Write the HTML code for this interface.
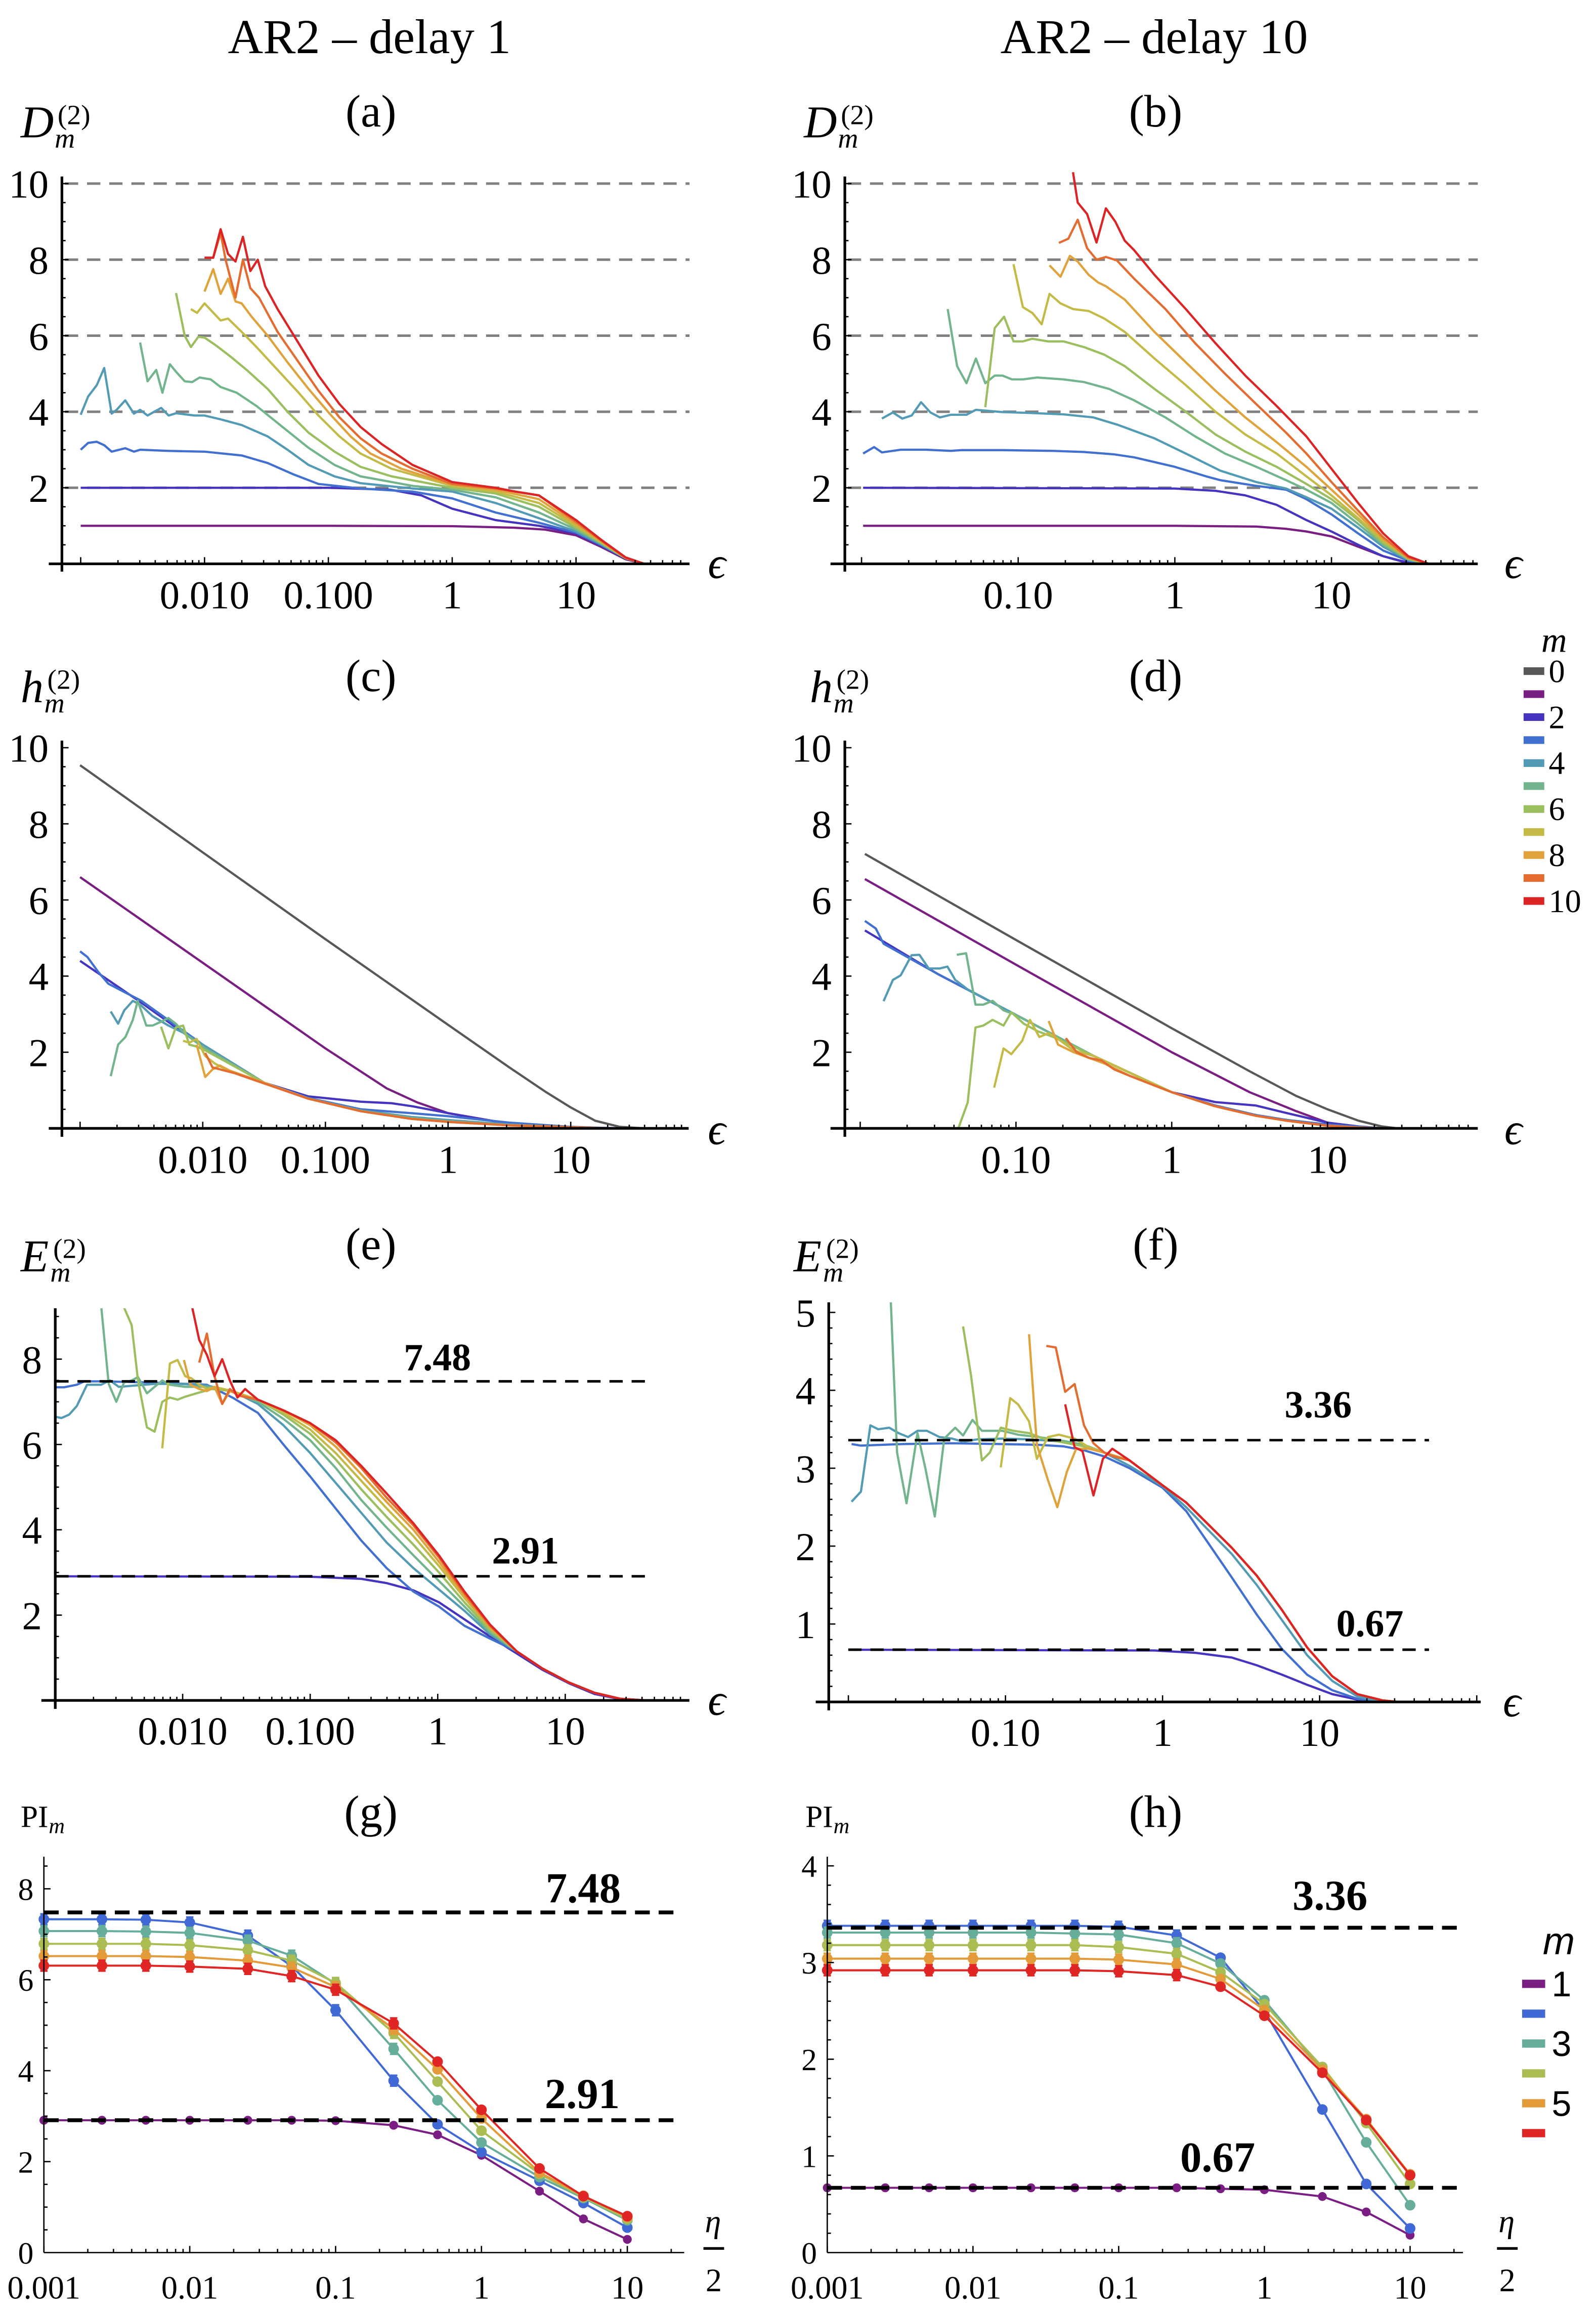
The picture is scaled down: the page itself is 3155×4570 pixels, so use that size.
<!DOCTYPE html>
<html><head><meta charset="utf-8">
<style>
html,body{margin:0;padding:0;background:#fff;}
svg{display:block;}
text{font-family:"Liberation Serif","DejaVu Serif",serif;fill:#000;}
.sans{font-family:"Liberation Sans","DejaVu Sans",sans-serif;}
</style></head>
<body>
<svg id="chart" xmlns="http://www.w3.org/2000/svg" width="3155" height="4570" viewBox="0 0 1080 1564" preserveAspectRatio="none">
<rect x="0" y="0" width="1080" height="1564" fill="#fff"/>
<text x="250" y="36" font-size="33" text-anchor="middle">AR2 – delay 1</text>
<text x="781" y="36" font-size="33" text-anchor="middle">AR2 – delay 10</text>
</svg>
<script>
// ================= DATA =================
const mColors = ['#585858','#7a1f82','#4434c0','#4170d0','#539bb5','#72b48c','#9bbf5f','#c3bb46','#e0a23a','#e46c30','#dc2424'];

// ---- Panel (a) ----
const aL1=[-3,-1,0,0.5,0.75,1,1.2,1.4,1.55], aV1=[1,1,0.99,0.95,0.9,0.75,0.45,0.12,0];
const aL2=[-3,-2,-1,-0.5,-0.25,0,0.35,0.7,1,1.2,1.4,1.55], aV2=[2,2,2,1.95,1.8,1.45,1.15,1.0,0.8,0.48,0.14,0];
const aL3=[-3,-2.94,-2.87,-2.81,-2.75,-2.64,-2.57,-2.52,-2.3,-2,-1.7,-1.49,-1.28,-1.08,-0.74,-0.32,0,0.35,0.7,1,1.2,1.4,1.55];
const aV3=[3.0,3.18,3.21,3.12,2.95,3.04,2.95,3.0,2.97,2.95,2.85,2.65,2.35,2.1,1.98,1.9,1.72,1.35,1.08,0.82,0.5,0.15,0];
const aL4=[-3,-2.94,-2.87,-2.81,-2.75,-2.71,-2.64,-2.57,-2.52,-2.46,-2.35,-2.29,-2.23,-2.08,-2,-1.87,-1.7,-1.49,-1.33,-1.16,-0.95,-0.74,-0.32,0,0.35,0.7,1,1.2,1.4,1.55];
const aV4=[3.92,4.4,4.7,5.15,3.95,4.05,4.3,3.95,4.05,3.9,4.1,3.9,3.96,3.9,3.9,3.8,3.65,3.35,3.0,2.6,2.3,2.12,1.98,1.9,1.6,1.2,0.85,0.52,0.15,0];
const aL5=[-2.52,-2.46,-2.39,-2.34,-2.28,-2.23,-2.16,-2.1,-2.04,-1.95,-1.87,-1.74,-1.58,-1.37,-1.16,-0.95,-0.74,-0.32,0,0.35,0.7,1,1.2,1.4,1.55];
const aV5=[5.82,4.8,5.1,4.5,5.25,5.05,4.8,4.78,4.9,4.85,4.65,4.5,4.15,3.6,3.05,2.6,2.3,2.05,1.95,1.75,1.35,0.9,0.54,0.15,0];
const aL6=[-2.23,-2.16,-2.11,-2.05,-2,-1.91,-1.79,-1.66,-1.49,-1.33,-1.16,-0.95,-0.74,-0.49,0,0.35,0.7,1,1.2,1.4,1.55];
const aV6=[7.12,6.0,5.7,5.97,5.95,5.75,5.45,5.1,4.6,4.0,3.45,2.95,2.55,2.3,2.0,1.85,1.5,0.95,0.56,0.15,0];
const aL7=[-2.11,-2.06,-2,-1.87,-1.81,-1.7,-1.58,-1.41,-1.24,-1.08,-0.91,-0.74,-0.49,0,0.35,0.7,1,1.2,1.4,1.55];
const aV7=[6.7,6.6,6.85,6.4,6.45,6.1,5.7,5.1,4.5,3.9,3.35,2.9,2.5,2.05,1.9,1.6,1.0,0.58,0.15,0];
const aL8=[-2,-1.93,-1.87,-1.81,-1.75,-1.7,-1.62,-1.49,-1.33,-1.16,-0.99,-0.82,-0.66,-0.41,0,0.35,0.7,1,1.2,1.4,1.55];
const aV8=[7.16,7.75,7.1,7.5,6.9,6.85,6.5,6.0,5.3,4.6,3.95,3.35,2.9,2.5,2.08,1.95,1.7,1.05,0.6,0.16,0];
const aL9=[-2,-1.93,-1.87,-1.83,-1.75,-1.69,-1.63,-1.56,-1.41,-1.24,-1.08,-0.91,-0.74,-0.57,-0.32,0,0.35,0.7,1,1.2,1.4,1.55];
const aV9=[8.05,8.05,8.7,8.0,7.0,8.0,7.25,7.0,6.1,5.3,4.55,3.85,3.3,2.9,2.5,2.1,1.98,1.8,1.1,0.62,0.16,0];
const aL10=[-2,-1.93,-1.87,-1.81,-1.75,-1.69,-1.63,-1.57,-1.51,-1.41,-1.24,-1.08,-0.91,-0.74,-0.57,-0.32,0,0.35,0.51,0.7,1,1.2,1.4,1.55];
const aV10=[8.05,8.05,8.8,8.15,7.95,8.6,7.7,8.0,7.3,6.7,5.8,4.95,4.2,3.6,3.15,2.6,2.15,2.0,1.9,1.8,1.15,0.64,0.17,0];

// ---- Panel (b) ----
const bL1=[-1.99,0,0.52,0.71,0.84,1.0,1.17,1.33,1.46,1.53], bV1=[1,1,0.98,0.92,0.85,0.72,0.45,0.2,0.05,0];
const bL2=[-1.99,0,0.26,0.45,0.65,0.84,1.0,1.17,1.33,1.49,1.54], bV2=[2,1.98,1.92,1.8,1.55,1.15,0.85,0.5,0.2,0.03,0];
const bL3=[-1.99,-1.92,-1.87,-1.75,-1.59,-1.43,-1.36,-1.1,-0.78,-0.58,-0.39,-0.26,0,0.2,0.29,0.52,0.71,0.84,1.0,1.17,1.33,1.49,1.59];
const bV3=[2.9,3.07,2.93,3.0,3.0,2.97,2.99,2.99,2.97,2.94,2.88,2.8,2.55,2.3,2.2,2.05,1.95,1.7,1.3,0.8,0.35,0.08,0];
const bL4=[-1.87,-1.8,-1.74,-1.68,-1.62,-1.56,-1.5,-1.43,-1.33,-1.27,-1.1,-0.94,-0.71,-0.52,-0.36,-0.13,0.07,0.29,0.52,0.71,0.84,1.0,1.17,1.33,1.49,1.61];
const bV4=[3.82,3.98,3.82,3.9,4.25,3.98,3.85,3.92,3.92,4.05,3.99,3.97,3.93,3.85,3.65,3.3,2.9,2.45,2.15,1.98,1.75,1.45,0.95,0.45,0.1,0];
const bL5=[-1.45,-1.39,-1.33,-1.27,-1.21,-1.15,-1.1,-1.04,-0.97,-0.88,-0.71,-0.58,-0.42,-0.26,-0.06,0.13,0.32,0.52,0.71,0.84,1.0,1.17,1.33,1.49,1.62];
const bV5=[6.7,5.2,4.75,5.4,4.75,4.95,4.95,4.85,4.85,4.9,4.85,4.78,4.6,4.3,3.85,3.35,2.9,2.55,2.2,1.95,1.6,1.05,0.5,0.12,0];
const bL6=[-1.21,-1.15,-1.09,-1.03,-0.97,-0.91,-0.81,-0.71,-0.58,-0.45,-0.32,-0.13,0.07,0.26,0.45,0.65,0.84,1.0,1.17,1.33,1.49,1.62];
const bV6=[4.12,6.2,6.5,5.85,5.85,5.92,5.85,5.85,5.7,5.5,5.2,4.6,4.0,3.4,2.95,2.55,2.1,1.7,1.15,0.55,0.13,0];
const bL7=[-1.03,-0.97,-0.91,-0.85,-0.8,-0.73,-0.65,-0.55,-0.45,-0.32,-0.13,0.07,0.26,0.45,0.65,0.84,1.0,1.17,1.33,1.49,1.62];
const bV7=[7.88,6.75,6.6,6.3,7.1,6.85,6.7,6.65,6.45,6.1,5.4,4.7,4.0,3.4,2.9,2.3,1.8,1.2,0.6,0.15,0];
const bL8=[-0.8,-0.73,-0.67,-0.62,-0.55,-0.49,-0.44,-0.32,-0.13,0.07,0.26,0.45,0.65,0.84,1.0,1.17,1.33,1.49,1.62];
const bV8=[7.85,7.55,8.1,7.95,7.6,7.4,7.3,6.95,6.1,5.3,4.55,3.85,3.2,2.55,1.95,1.3,0.65,0.15,0];
const bL9=[-0.74,-0.68,-0.62,-0.56,-0.5,-0.44,-0.37,-0.26,-0.06,0.13,0.32,0.52,0.71,0.84,1.0,1.17,1.33,1.49,1.62];
const bV9=[8.44,8.55,9.05,8.3,8.0,8.07,7.98,7.5,6.7,5.8,5.0,4.2,3.45,2.9,2.15,1.4,0.7,0.17,0];
const bL10=[-0.65,-0.62,-0.56,-0.5,-0.44,-0.38,-0.32,-0.26,-0.13,0.07,0.26,0.45,0.65,0.84,1.0,1.17,1.33,1.49,1.62];
const bV10=[10.3,9.5,9.2,8.45,9.35,9.0,8.5,8.25,7.6,6.7,5.8,4.95,4.15,3.35,2.5,1.6,0.8,0.2,0];

// ---- Panel (c) ----
const cL0=[-3,-2,-1,0,0.5,0.8,1,1.2,1.4,1.6], cV0=[9.54,7.25,4.97,2.72,1.6,0.95,0.55,0.2,0.04,0];
const cL1=[-3,-2,-1,-0.5,-0.25,0,0.5,1,1.3], cV1=[6.6,4.35,2.1,1.05,0.68,0.4,0.12,0.02,0];
const cL2=[-3,-2.5,-2,-1.5,-1.14,-0.71,-0.46,-0.29,0,0.35,0.56,1,1.4], cV2=[4.4,3.3,2.15,1.2,0.84,0.7,0.66,0.58,0.4,0.2,0.1,0.02,0];
const cL3=[-3,-2.94,-2.85,-2.77,-2.5,-2,-1.5,-1.14,-0.71,-0.3,0,0.5,1,1.4], cV3=[4.65,4.5,4.1,3.8,3.35,2.2,1.2,0.8,0.5,0.4,0.32,0.15,0.04,0];
const cTailL=[-1.14,-0.71,-0.3,0,0.5,1,1.3], cTailV=[0.78,0.45,0.25,0.17,0.08,0.03,0];
const cL4=[-2.75,-2.69,-2.64,-2.57,-2.51,-2.41,-2.28,-2.15,-2,-1.5,-1.14,-0.71,-0.3,0,0.5,1,1.3], cV4=[3.07,2.75,3.1,3.35,3.25,2.95,2.7,2.5,2.2,1.2,0.79,0.47,0.3,0.22,0.1,0.03,0];
const cL5=[-2.75,-2.69,-2.63,-2.57,-2.53,-2.46,-2.41,-2.34,-2.28,-2.22,-2.15,-2.07,-1.98,-1.5,-1.14,-0.71,-0.3,0,0.5,1,1.3];
const cV5=[1.37,2.2,2.4,2.85,3.35,2.7,2.7,2.8,2.9,2.75,2.5,2.3,2.1,1.2,0.78,0.46,0.27,0.19,0.09,0.03,0];
const cL6=[-2.34,-2.28,-2.22,-2.16,-2.11,-2.05,-1.98,-1.5], cV6=[2.67,2.1,2.65,2.7,2.2,2.15,2.05,1.2];
const cL7=[-2.16,-2.11,-2.05,-1.98,-1.9,-1.81,-1.5], cV7=[2.3,2.25,2.35,1.9,1.7,1.55,1.2];
const cL8=[-2.05,-1.98,-1.92,-1.86,-1.77,-1.5], cV8=[2.2,1.35,1.55,1.65,1.5,1.2];
const cL9=[-1.98,-1.92,-1.86,-1.74,-1.5], cV9=[1.98,1.6,1.55,1.45,1.18];

// ---- Panel (d) ----
const dL0=[-1.97,-1,0,0.5,0.8,1,1.2,1.35,1.45], dV0=[7.21,4.95,2.63,1.5,0.85,0.5,0.2,0.05,0];
const dL1=[-1.97,-1,0,0.5,0.8,1,1.2,1.3], dV1=[6.55,4.3,2.0,0.95,0.45,0.15,0.03,0];
const dL2=[-1.97,-1.5,-1,-0.5,0,0.28,0.54,0.74,1,1.2,1.36], dV2=[5.2,4.05,2.98,1.9,0.95,0.69,0.6,0.4,0.15,0.05,0];
const dL3=[-1.97,-1.9,-1.85,-1.5,-1,-0.5,0,0.28,0.54,0.74,1,1.36], dV3=[5.45,5.25,4.85,4.05,2.98,1.9,0.95,0.6,0.35,0.22,0.1,0];
const dTailL=[-0.5,0,0.28,0.54,0.74,1,1.2,1.36], dTailV=[1.9,0.95,0.58,0.33,0.2,0.07,0.02,0];
const dL4=[-1.85,-1.79,-1.74,-1.67,-1.62,-1.56,-1.49,-1.44,-1.39,-1.31,-1], dV4=[3.34,3.9,4.02,4.55,4.56,4.2,4.2,4.25,3.9,3.65,2.98];
const dL5=[-1.38,-1.32,-1.26,-1.21,-1.15,-1.08,-1], dV5=[4.56,4.6,3.25,3.25,3.35,3.1,2.98];
const dL6=[-1.37,-1.31,-1.26,-1.21,-1.15,-1.08,-1.03,-0.95,-0.86,-0.76], dV6=[0,0.68,2.65,2.7,2.85,2.7,3.05,2.75,2.55,2.4];
const dL7=[-1.14,-1.08,-1.03,-0.96,-0.91,-0.85,-0.79,-0.73,-0.63], dV7=[1.07,2.1,1.95,2.3,2.85,2.4,2.5,2.35,2.05];
const dL8=[-0.79,-0.73,-0.63,-0.53,-0.43,-0.27], dV8=[2.82,2.2,2.0,1.85,1.7,1.38];
const dL9=[-0.68,-0.61,-0.53,-0.45,-0.37,-0.27], dV9=[2.37,2.0,1.85,1.78,1.55,1.38];

// ---- Panel (e) ----
const eTailL=[0.62,0.82,1.03,1.23,1.43,1.64], eTailV=[1.15,0.75,0.42,0.18,0.04,0];
const eL2=[-3,-1,-0.6,-0.4,-0.19,0.01,0.21,0.41,0.62,0.82,1.03,1.23,1.43,1.64], eV2=[2.91,2.9,2.85,2.75,2.58,2.3,1.9,1.5,1.1,0.72,0.4,0.15,0.03,0];
const eL3=[-3,-2.93,-2.83,-2.77,-2.62,-2.22,-1.81,-1.61,-1.41,-1.21,-1.0,-0.8,-0.6,-0.4,-0.19,0.01,0.21,0.41];
const eV3=[7.34,7.34,7.4,7.48,7.48,7.45,7.4,7.1,6.74,6.0,5.25,4.5,3.75,3.1,2.55,2.2,1.75,1.45];
const eL4=[-3,-2.95,-2.89,-2.83,-2.75,-2.64,-2.57,-2.5,-2.38,-2.22,-2.02,-1.81,-1.61,-1.41,-1.21,-1.0,-0.8,-0.6,-0.4,-0.19,0.01,0.21,0.41];
const eV4=[6.65,6.62,6.7,6.9,7.4,7.4,7.5,7.35,7.38,7.42,7.42,7.38,7.25,6.95,6.45,5.8,5.1,4.4,3.7,3.1,2.6,2.1,1.55];
const eL5=[-2.64,-2.58,-2.52,-2.46,-2.4,-2.35,-2.28,-2.22,-2.16,-2.1,-1.98,-1.81,-1.61,-1.41,-1.21,-1.0,-0.8,-0.6,-0.4,-0.19,0.01,0.21,0.41];
const eV5=[9.28,7.42,7.0,7.45,7.5,7.58,7.2,7.35,7.5,7.4,7.35,7.35,7.25,7.0,6.6,6.1,5.45,4.7,4.05,3.4,2.8,2.2,1.6];
const eL6=[-2.47,-2.4,-2.35,-2.28,-2.22,-2.16,-2.1,-2.04,-1.98,-1.89,-1.77,-1.61,-1.41,-1.21,-1.0,-0.8,-0.6,-0.4,-0.19,0.01,0.21,0.41];
const eV6=[9.28,8.8,7.5,6.4,6.3,7.0,7.1,7.05,7.12,7.2,7.3,7.25,7.05,6.7,6.25,5.65,4.95,4.3,3.65,3.0,2.3,1.65];
const eL7=[-2.16,-2.1,-2.04,-1.98,-1.93,-1.87,-1.81,-1.75,-1.61,-1.41,-1.21,-1.0,-0.8,-0.6,-0.4,-0.19,0.01,0.21,0.41];
const eV7=[5.91,7.9,7.98,7.6,7.55,7.4,7.3,7.35,7.25,7.05,6.75,6.35,5.8,5.15,4.5,3.85,3.15,2.4,1.7];
const eL8=[-1.99,-1.94,-1.87,-1.81,-1.75,-1.69,-1.63,-1.53,-1.41,-1.21,-1.0,-0.8,-0.6,-0.4,-0.19,0.01,0.21,0.41];
const eV8=[7.98,7.4,7.3,7.25,7.35,6.95,7.25,7.15,7.05,6.8,6.45,5.95,5.3,4.65,4.0,3.25,2.45,1.72];
const eL9=[-1.87,-1.81,-1.75,-1.69,-1.63,-1.57,-1.41,-1.21,-1.0,-0.8,-0.6,-0.4,-0.19,0.01,0.21,0.41];
const eV9=[7.92,8.6,7.6,6.95,7.3,7.15,7.05,6.8,6.5,6.05,5.45,4.75,4.1,3.35,2.5,1.75];
const eL10=[-1.93,-1.87,-1.81,-1.75,-1.69,-1.63,-1.57,-1.51,-1.41,-1.21,-1.0,-0.8,-0.6,-0.4,-0.19,0.01,0.21,0.41];
const eV10=[9.28,8.45,8.1,7.6,8.0,7.5,7.1,7.3,7.05,6.8,6.5,6.1,5.5,4.85,4.15,3.4,2.55,1.78];
const eRefVals=[7.48,2.91];

// ---- Panel (f) ----
const fTailL=[-0.21,0,0.15,0.27,0.44,0.6,0.76,0.92,1.08,1.24,1.4,1.5], fTailV=[3.1,2.78,2.56,2.32,1.98,1.62,1.18,0.7,0.33,0.1,0.02,0];
const fL2=[-1.98,-0.05,0.21,0.44,0.6,0.76,0.92,1.08,1.24,1.34], fV2=[0.67,0.66,0.63,0.57,0.47,0.35,0.22,0.1,0.03,0];
const fL3=[-1.98,-1.92,-1.66,-1.34,-1.02,-0.79,-0.63,-0.5,-0.37,-0.21,0,0.15,0.27,0.44,0.6,0.76,0.92,1.08,1.24,1.37];
const fV3=[3.31,3.29,3.31,3.32,3.31,3.3,3.28,3.23,3.15,3.0,2.75,2.45,2.1,1.6,1.12,0.68,0.35,0.15,0.04,0];
const fL4=[-1.98,-1.92,-1.86,-1.81,-1.74,-1.68,-1.62,-1.56,-1.5,-1.42,-1.34,-1.27,-1.18,-1.02,-0.85,-0.69,-0.5,-0.37,-0.21,0,0.15,0.27,0.44,0.6,0.76,0.92,1.08,1.24,1.4];
const fV4=[2.57,2.7,3.55,3.5,3.52,3.45,3.4,3.48,3.48,3.4,3.38,3.34,3.37,3.38,3.37,3.35,3.3,3.2,3.03,2.77,2.5,2.25,1.9,1.5,1.05,0.6,0.27,0.07,0];
const fL5=[-1.73,-1.69,-1.63,-1.56,-1.51,-1.45,-1.39,-1.32,-1.27,-1.21,-1.15,-1.08,-1.02,-0.92,-0.79,-0.63,-0.5,-0.37];
const fV5=[5.14,3.2,2.55,3.45,3.0,2.38,3.38,3.52,3.42,3.62,3.48,3.48,3.48,3.43,3.4,3.35,3.3,3.2];
const fL6=[-1.27,-1.22,-1.15,-1.10,-1.03,-0.95,-0.85,-0.76,-0.63,-0.5,-0.37], fV6=[4.82,4.2,3.1,3.2,3.52,3.48,3.45,3.38,3.33,3.28,3.2];
const fL7=[-1.03,-0.97,-0.92,-0.85,-0.80,-0.73,-0.66,-0.56,-0.47,-0.37], fV7=[3.01,3.9,3.82,3.6,3.12,3.4,3.43,3.38,3.27,3.2];
const fL8=[-0.85,-0.80,-0.73,-0.67,-0.61,-0.55,-0.47,-0.37], fV8=[4.72,3.3,2.85,2.5,2.95,3.25,3.25,3.2];
const fL9=[-0.74,-0.68,-0.62,-0.56,-0.50,-0.44,-0.37,-0.31], fV9=[4.57,4.55,3.98,4.08,3.55,3.32,3.2,3.15];
const fL10=[-0.62,-0.56,-0.51,-0.44,-0.38,-0.32], fV10=[3.82,3.27,3.22,2.65,3.12,3.25];
const fRefVals=[3.36,0.67];

// ---- Panels (g),(h) ----
const etaVals=[0.001,0.0025,0.005,0.01,0.025,0.05,0.1,0.25,0.5,1,2.5,5,10];
const piColors=['#7b1e83','#4169d6','#66ad9b','#a9bd52','#e39a38','#e02525'];
const gPI1=[2.91,2.91,2.91,2.91,2.91,2.91,2.90,2.80,2.59,2.14,1.35,0.74,0.29];
const gPI2=[7.33,7.33,7.32,7.26,6.97,6.3,5.33,3.78,2.82,2.21,1.58,1.09,0.55];
const gPI3=[7.07,7.07,7.06,7.03,6.86,6.53,5.91,4.48,3.35,2.42,1.66,1.2,0.71];
const gPI4=[6.79,6.79,6.79,6.76,6.65,6.42,5.93,4.83,3.76,2.68,1.73,1.22,0.74];
const gPI5=[6.52,6.52,6.52,6.5,6.42,6.27,5.84,4.92,4.03,2.95,1.76,1.25,0.78];
const gPI6=[6.31,6.31,6.31,6.29,6.24,6.08,5.78,5.04,4.2,3.14,1.85,1.24,0.8];
const hPI1=[0.67,0.67,0.67,0.67,0.67,0.67,0.67,0.67,0.66,0.65,0.58,0.42,0.18];
const hPI2=[3.38,3.38,3.38,3.38,3.38,3.38,3.37,3.28,3.05,2.5,1.48,0.71,0.25];
const hPI3=[3.31,3.31,3.31,3.31,3.31,3.3,3.29,3.2,2.99,2.61,1.89,1.14,0.49];
const hPI4=[3.18,3.18,3.18,3.18,3.18,3.18,3.16,3.09,2.9,2.57,1.92,1.34,0.71];
const hPI5=[3.04,3.04,3.04,3.04,3.04,3.04,3.03,2.98,2.83,2.51,1.89,1.38,0.81];
const hPI6=[2.92,2.92,2.92,2.92,2.92,2.92,2.91,2.87,2.75,2.45,1.86,1.37,0.8];
const gRefVals=[7.48,2.91];
const hRefVals=[3.36,0.67];

const xTickLogsD1=[-2,-1,0,1], xTickLabelsD1=['0.010','0.100','1','10'];
const xTickLogsD10=[-1,0,1], xTickLabelsD10=['0.10','1','10'];
const xTickLogsPI=[-3,-2,-1,0,1], xTickLabelsPI=['0.001','0.01','0.1','1','10'];
const yTicksD=[2,4,6,8,10];
const yTicksE1=[2,4,6,8];
const yTicksE10=[1,2,3,4,5];
const yTicksG=[0,2,4,6,8];
const yTicksH=[0,1,2,3,4];
const dashedRefD=[2,4,6,8,10];

// ================= DRAWING =================
const NS='http://www.w3.org/2000/svg';
const svg=document.getElementById('chart');
function mk(tag, attrs, parent){
  const e=document.createElementNS(NS,tag);
  for(const k in attrs) e.setAttribute(k, attrs[k]);
  (parent||svg).appendChild(e);
  return e;
}
function nameIt(el, name){
  
  
}
function txt(x,y,s,size,opts,parent){
  const e=mk('text',Object.assign({x:x,y:y,'font-size':size},opts||{}),parent);
  e.textContent=s;
  return e;
}

const G={
 a:{x0:306,dx:83.8,y0:381.4,dy:25.72,ax:41.9,xa:[33,466.6],ya:[119.4,386.7],lmin:-3,ymax:10,ystep:0.5,ytop:110,tickLab:411.5,thick:1.8,tsz:27},
 b:{x0:795,dx:106,y0:381.4,dy:25.72,ax:571.7,xa:[562,1000],ya:[119.4,386.7],lmin:-2,ymax:10,ystep:0.5,ytop:110,tickLab:411.5,thick:1.8,tsz:27},
 c:{x0:303.2,dx:83,y0:763.3,dy:25.75,ax:41.9,xa:[33,466],ya:[501,769],lmin:-3,ymax:10,ystep:0.5,ytop:495,tickLab:793.5,thick:1.8,tsz:27},
 d:{x0:792.9,dx:105.4,y0:763.3,dy:25.75,ax:571.7,xa:[562,1000],ya:[501,769],lmin:-2,ymax:10,ystep:0.5,ytop:495,tickLab:793.5,thick:1.8,tsz:27},
 e:{x0:296.2,dx:86.3,y0:1150.3,dy:28.86,ax:37.4,xa:[28,466.5],ya:[885,1156],lmin:-3,ymax:9,ystep:0.5,ytop:885,tickLab:1180,thick:1.8,tsz:27},
 f:{x0:786.7,dx:106.3,y0:1151.3,dy:52.7,ax:560.8,xa:[552,1002],ya:[881,1157],lmin:-2,ymax:5,ystep:0.2,ytop:881,tickLab:1181,thick:1.8,tsz:27},
 g:{x0:325.8,dx:98.7,y0:1523.8,dy:30.76,ax:29.7,xa:[29.7,463],ya:[1256,1523.8],lmin:-3,ymax:8.5,ystep:0.5,ytop:1250,tickLab:1555,thick:0.9,tsz:22},
 h:{x0:855.6,dx:98.6,y0:1523.8,dy:65.4,ax:559.8,xa:[559.8,990],ya:[1256,1523.8],lmin:-3,ymax:4,ystep:0.2,ytop:1250,tickLab:1555,thick:0.9,tsz:22}
};
function X(p,l){return G[p].x0+G[p].dx*l;}
function Y(p,v){return G[p].y0-G[p].dy*v;}

function axes(p, xl, xlab, yt){
  const g=G[p];
  const grp=mk('g',{});
  nameIt(grp, 'panel-'+p+'-axes');
  const xaxis=mk('line',{x1:g.xa[0],x2:g.xa[1],y1:g.y0,y2:g.y0,stroke:'#000','stroke-width':g.thick},grp);
  nameIt(xaxis, 'panel-'+p+'-x-axis');
  const yaxis=mk('line',{x1:g.ax,x2:g.ax,y1:g.ya[0],y2:g.ya[1],stroke:'#000','stroke-width':g.thick},grp);
  nameIt(yaxis, 'panel-'+p+'-y-axis');
  const lmax=(g.xa[1]-g.x0)/g.dx;
  for(let d=g.lmin; d<=Math.floor(lmax); d++){
    for(let k=1;k<=9;k++){
      const l=d+Math.log10(k);
      if(l>lmax-0.02) break;
      const x=X(p,l);
      const len=(k===1)?4.5:2.5;
      mk('line',{x1:x,x2:x,y1:g.y0,y2:g.y0-len,stroke:'#000','stroke-width':0.9},grp);
    }
  }
  xl.forEach((l,i)=>{
    const t=txt(X(p,l),g.tickLab,xlab[i],g.tsz,{'text-anchor':'middle'},grp);
    nameIt(t, 'panel-'+p+'-x-tick-label');
  });
  const isG=(p==='g'||p==='h');
  for(let v=g.ystep; v<=g.ymax+1e-6; v+=g.ystep){
    const vv=Math.round(v*100)/100;
    const major=yt.indexOf(vv)>=0;
    const y=Y(p,vv);
    mk('line',{x1:g.ax,x2:g.ax+(major?4.5:2.5),y1:y,y2:y,stroke:'#000','stroke-width':0.9},grp);
  }
  yt.forEach(v=>{
    const t=txt(g.ax-(isG?7:9),Y(p,v)+(isG?7.5:9.5),String(v),isG?21:27,{'text-anchor':'end'},grp);
    nameIt(t, 'panel-'+p+'-y-tick-label');
  });
}

function clip(p){
  const g=G[p];
  const cp=mk('clipPath',{id:'clip-'+p});
  mk('rect',{x:g.xa[0]-2,y:g.ytop,width:g.xa[1]-g.xa[0]+4,height:g.y0-g.ytop+1},cp);
  const grp=mk('g',{'clip-path':'url(#clip-'+p+')'});
  nameIt(grp, 'panel-'+p+'-plot-area');
  return grp;
}
function curve(p, L, V, color, name, parent){
  const pts=L.map((l,i)=>X(p,l).toFixed(2)+','+Y(p,V[i]).toFixed(2)).join(' ');
  const el=mk('polyline',{points:pts,fill:'none',stroke:color,'stroke-width':1.5,'stroke-linejoin':'round'},parent);
  nameIt(el, name);
  return el;
}
function hdash(p, v, x1, x2, color, w, dash, name){
  const el=mk('line',{x1:x1,x2:x2,y1:Y(p,v),y2:Y(p,v),stroke:color,'stroke-width':w,'stroke-dasharray':dash});
  nameIt(el, name);
}
function mathLabel(x,y,letter,name,wid){
  const t1=txt(x,y,letter,31,{'font-style':'italic'});
  nameIt(t1, name+'-symbol');
  const t2=txt(x+wid+2,y-9,'(2)',19,{});
  nameIt(t2, name+'-superscript');
  const t3=txt(x+wid,y+7,'m',19,{'font-style':'italic'});
  nameIt(t3, name+'-subscript');
}
function epsLabel(x,y,name){
  const t=txt(x,y,'\u03F5',30,{'font-style':'italic'});
  nameIt(t, name);
}
function panelTitle(x,y,s,name){
  const t=txt(x,y,s,31,{'text-anchor':'middle'});
  nameIt(t, name);
}

// ---------- Row 1 ----------
panelTitle(251,85.5,'(a)','panel-a-title');
panelTitle(782,85.5,'(b)','panel-b-title');
mathLabel(14,93,'D','panel-a-y-title',23);
mathLabel(544,93,'D','panel-b-y-title',23);
['a','b'].forEach(p=>{
  const g=G[p];
  dashedRefD.forEach(v=>hdash(p,v,g.ax+2,g.xa[1],'#808080',1.7,'9,6','panel-'+p+'-gridline-'+v));
});
const aL=[aL1,aL2,aL3,aL4,aL5,aL6,aL7,aL8,aL9,aL10], aV=[aV1,aV2,aV3,aV4,aV5,aV6,aV7,aV8,aV9,aV10];
const bL=[bL1,bL2,bL3,bL4,bL5,bL6,bL7,bL8,bL9,bL10], bV=[bV1,bV2,bV3,bV4,bV5,bV6,bV7,bV8,bV9,bV10];
const ga=clip('a'), gb=clip('b');
aL.forEach((L,i)=>curve('a',L,aV[i],mColors[i+1],'panel-a-line-m'+(i+1),ga));
bL.forEach((L,i)=>curve('b',L,bV[i],mColors[i+1],'panel-b-line-m'+(i+1),gb));
axes('a',xTickLogsD1,xTickLabelsD1,yTicksD);
axes('b',xTickLogsD10,xTickLabelsD10,yTicksD);
epsLabel(479,391,'panel-a-x-title');
epsLabel(1018,391,'panel-b-x-title');

// ---------- Row 2 ----------
panelTitle(251,467.5,'(c)','panel-c-title');
panelTitle(782,467.5,'(d)','panel-d-title');
mathLabel(14,475,'h','panel-c-y-title',16);
mathLabel(548,475,'h','panel-d-y-title',16);
const gc=clip('c'), gd=clip('d');
const cL=[cL0,cL1,cL2,cL3,cL4,cL5,cL6.concat(cTailL),cL7.concat(cTailL),cL8.concat(cTailL),cL9.concat(cTailL)];
const cV=[cV0,cV1,cV2,cV3,cV4,cV5,cV6.concat(cTailV),cV7.concat(cTailV),cV8.concat(cTailV),cV9.concat(cTailV)];
cL.forEach((L,i)=>curve('c',L,cV[i],mColors[i],'panel-c-line-m'+i,gc));
const dL=[dL0,dL1,dL2,dL3,dL4.concat(dTailL),dL5.concat(dTailL),dL6.concat(dTailL),dL7.concat(dTailL),dL8.concat(dTailL.slice(1)),dL9.concat(dTailL.slice(1))];
const dV=[dV0,dV1,dV2,dV3,dV4.concat(dTailV),dV5.concat(dTailV),dV6.concat(dTailV),dV7.concat(dTailV),dV8.concat(dTailV.slice(1)),dV9.concat(dTailV.slice(1))];
dL.forEach((L,i)=>curve('d',L,dV[i],mColors[i],'panel-d-line-m'+i,gd));
axes('c',xTickLogsD1,xTickLabelsD1,yTicksD);
axes('d',xTickLogsD10,xTickLabelsD10,yTicksD);
epsLabel(479,774,'panel-c-x-title');
epsLabel(1018,774,'panel-d-x-title');

// ---------- Row 3 ----------
panelTitle(251,852,'(e)','panel-e-title');
panelTitle(782,852,'(f)','panel-f-title');
mathLabel(14,860,'E','panel-e-y-title',20);
mathLabel(537,860,'E','panel-f-y-title',20);
const ge=clip('e'), gf=clip('f');
const eL=[eL2,eL3.concat(eTailL),eL4.concat(eTailL),eL5.concat(eTailL),eL6.concat(eTailL),eL7.concat(eTailL),eL8.concat(eTailL),eL9.concat(eTailL),eL10.concat(eTailL)];
const eV=[eV2,eV3.concat(eTailV),eV4.concat(eTailV),eV5.concat(eTailV),eV6.concat(eTailV),eV7.concat(eTailV),eV8.concat(eTailV),eV9.concat(eTailV),eV10.concat(eTailV)];
eL.forEach((L,i)=>curve('e',L,eV[i],mColors[i+2],'panel-e-line-m'+(i+2),ge));
const fL=[fL2,fL3,fL4,fL5.concat(fTailL),fL6.concat(fTailL),fL7.concat(fTailL),fL8.concat(fTailL),fL9.concat(fTailL),fL10.concat(fTailL)];
const fV=[fV2,fV3,fV4,fV5.concat(fTailV),fV6.concat(fTailV),fV7.concat(fTailV),fV8.concat(fTailV),fV9.concat(fTailV),fV10.concat(fTailV)];
fL.forEach((L,i)=>curve('f',L,fV[i],mColors[i+2],'panel-f-line-m'+(i+2),gf));
eRefVals.forEach(v=>hdash('e',v,37.4,436.7,'#000',1.7,'9,6','panel-e-reference-'+v));
fRefVals.forEach(v=>hdash('f',v,574,967,'#000',1.7,'9,6','panel-f-reference-'+v));
axes('e',xTickLogsD1,xTickLabelsD1,yTicksE1);
axes('f',xTickLogsD10,xTickLabelsD10,yTicksE10);
epsLabel(479,1160,'panel-e-x-title');
epsLabel(1017,1161,'panel-f-x-title');
let t;
t=txt(296,927,'7.48',26,{'font-weight':'bold','text-anchor':'middle'}); nameIt(t,'panel-e-value-7.48');
t=txt(355.6,1057.6,'2.91',26,{'font-weight':'bold','text-anchor':'middle'}); nameIt(t,'panel-e-value-2.91');
t=txt(892,959,'3.36',26,{'font-weight':'bold','text-anchor':'middle'}); nameIt(t,'panel-f-value-3.36');
t=txt(927,1107,'0.67',26,{'font-weight':'bold','text-anchor':'middle'}); nameIt(t,'panel-f-value-0.67');

// ---------- Row 4 ----------
panelTitle(251,1236,'(g)','panel-g-title');
panelTitle(782,1236,'(h)','panel-h-title');
[['g',14],['h',545]].forEach(([p,x])=>{
  const a=txt(x,1236,'PI',21,{}); nameIt(a,'panel-'+p+'-y-title');
  const b=txt(x+19,1240,'m',15,{'font-style':'italic'}); nameIt(b,'panel-'+p+'-y-title-subscript');
});
function piPanel(p, series, refs, refEnd){
  const grp=mk('g',{});
  nameIt(grp, 'panel-'+p+'-series');
  series.forEach((vals,si)=>{
    const col=piColors[si];
    const pts=etaVals.map((e,i)=>X(p,Math.log10(e)).toFixed(2)+','+Y(p,vals[i]).toFixed(2)).join(' ');
    const pl=mk('polyline',{points:pts,fill:'none',stroke:col,'stroke-width':1.4},grp);
    nameIt(pl, 'panel-'+p+'-line-m'+(si+1));
    etaVals.forEach((e,i)=>{
      const cx=X(p,Math.log10(e)), cy=Y(p,vals[i]);
      if(si>0 && i<8){
        const eb=mk('path',{d:'M'+(cx-2.5)+','+(cy-3.6)+'h5M'+cx+','+(cy-3.6)+'v7.2M'+(cx-2.5)+','+(cy+3.6)+'h5',stroke:col,'stroke-width':1.2,fill:'none'},grp);
        nameIt(eb, 'panel-'+p+'-errorbar-m'+(si+1));
      }
      const c=mk('circle',{cx:cx,cy:cy,r:si===0?3:3.6,fill:col},grp);
      nameIt(c, 'panel-'+p+'-point-m'+(si+1));
    });
  });
  refs.forEach(v=>hdash(p,v,G[p].ax,refEnd,'#000',2.6,'10,6','panel-'+p+'-reference-'+v));
}
piPanel('g',[gPI1,gPI2,gPI3,gPI4,gPI5,gPI6],gRefVals,456);
piPanel('h',[hPI1,hPI2,hPI3,hPI4,hPI5,hPI6],hRefVals,986);
axes('g',xTickLogsPI,xTickLabelsPI,yTicksG);
axes('h',xTickLogsPI,xTickLabelsPI,yTicksH);
t=txt(394.7,1287,'7.48',29,{'font-weight':'bold','text-anchor':'middle'}); nameIt(t,'panel-g-value-7.48');
t=txt(394,1426,'2.91',29,{'font-weight':'bold','text-anchor':'middle'}); nameIt(t,'panel-g-value-2.91');
t=txt(900,1292,'3.36',29,{'font-weight':'bold','text-anchor':'middle'}); nameIt(t,'panel-h-value-3.36');
t=txt(824,1469,'0.67',29,{'font-weight':'bold','text-anchor':'middle'}); nameIt(t,'panel-h-value-0.67');
[['g',476],['h',1013]].forEach(([p,x])=>{
  const a=txt(x+1,1510,'\u03B7',22,{'font-style':'italic'}); nameIt(a,'panel-'+p+'-x-title-eta');
  const b=mk('line',{x1:x,x2:x+14,y1:1521,y2:1521,stroke:'#000','stroke-width':1.8}); nameIt(b,'panel-'+p+'-x-title-bar');
  const c=txt(x+1.5,1550,'2',22,{}); nameIt(c,'panel-'+p+'-x-title-two');
});

// ---------- Legend m = 0..10 ----------
const legM=mk('g',{});
nameIt(legM,'legend-m');
t=txt(1043,441,'m',24,{'font-style':'italic'},legM); nameIt(t,'legend-m-title');
mColors.forEach((c,k)=>{
  const cy=454+15.55*k;
  const r=mk('rect',{x:1031,y:cy-2.6,width:14,height:5.2,fill:c},legM);
  nameIt(r,'legend-m-swatch-'+k);
  if(k%2===0){
    const l=txt(1048,cy+7.5,String(k),22,{},legM);
    nameIt(l,'legend-m-label-'+k);
  }
});

// ---------- Legend PI m = 1..6 ----------
const legP=mk('g',{});
nameIt(legP,'legend-pi');
t=txt(1044,1322,'m',26,{'font-style':'italic','class':'sans'},legP); nameIt(t,'legend-pi-title');
piColors.forEach((c,k)=>{
  const cy=1342+20.2*k;
  const r=mk('rect',{x:1030,y:cy-2.8,width:15.6,height:5.6,fill:c},legP);
  nameIt(r,'legend-pi-swatch-'+(k+1));
  if(k%2===0){
    const l=txt(1050,cy+8.5,String(k+1),24,{'class':'sans'},legP);
    nameIt(l,'legend-pi-label-'+(k+1));
  }
});
</script>
</body></html>
